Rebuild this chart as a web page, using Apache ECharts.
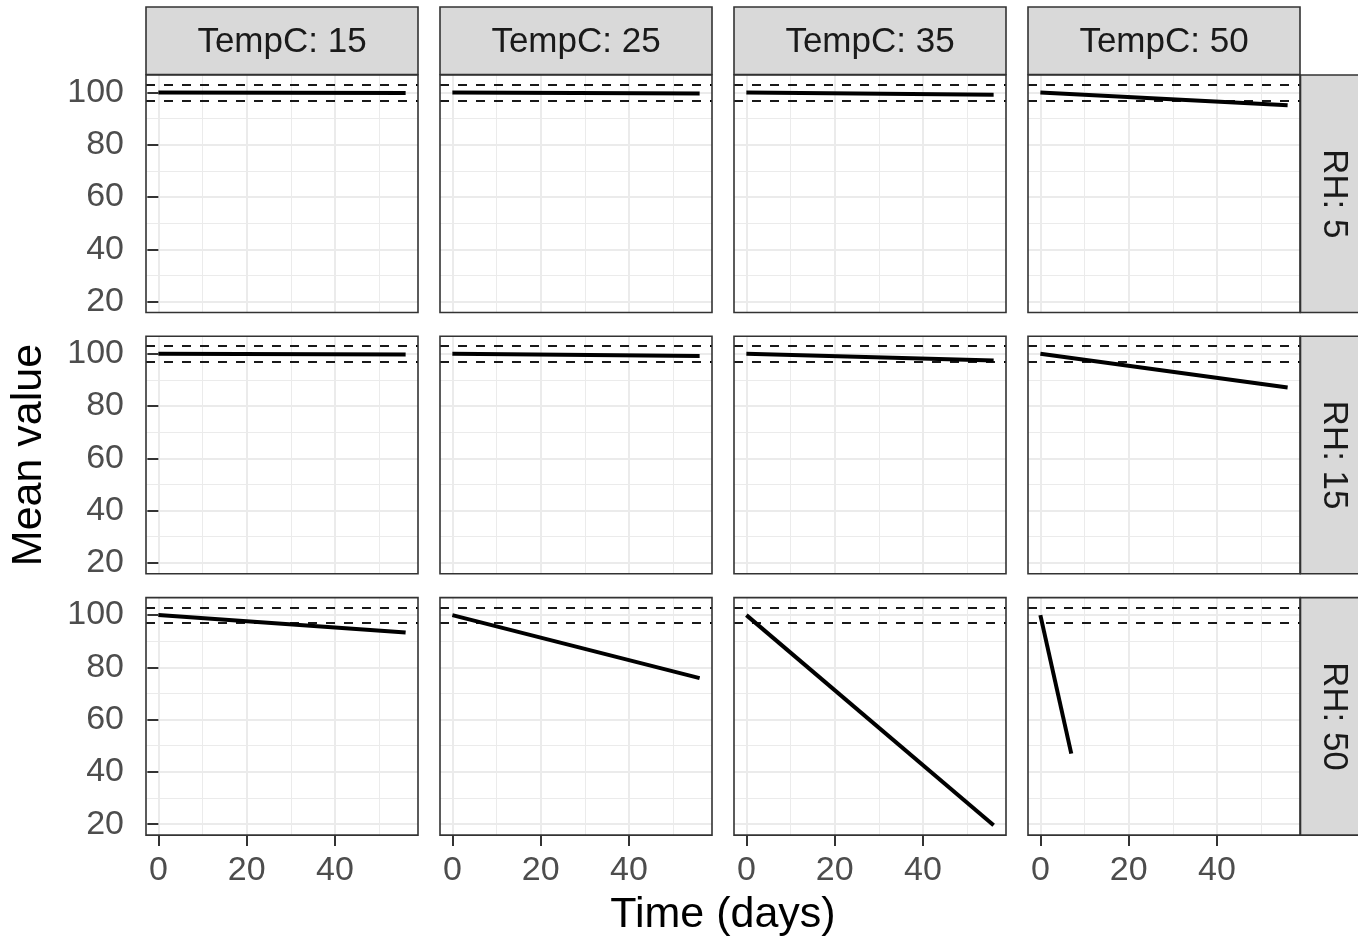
<!DOCTYPE html>
<html><head><meta charset="utf-8">
<script src="https://cdn.jsdelivr.net/npm/echarts@6/dist/echarts.min.js"></script>
<style>html,body{margin:0;padding:0;background:#fff}#c{width:1358px;height:940px}</style>
</head><body><div id="c"></div>
<script>
// ---- data ----
const tempLabels = ['TempC: 15', 'TempC: 25', 'TempC: 35', 'TempC: 50'];
const rhLabels = ['RH: 5', 'RH: 15', 'RH: 50'];
const xTickValues = [0, 20, 40];
const yTickValues = [20, 40, 60, 80, 100];
const specLimits = [97, 103];
const startDay = 0;
const startValue = 100;
const rh5EndDay = [56, 56, 56, 56];
const rh5EndValue = [99.8, 99.6, 99.1, 95.1];
const rh15EndDay = [56, 56, 56, 56];
const rh15EndValue = [99.7, 99.2, 97.4, 87.1];
const rh50EndDay = [56, 56, 56, 7];
const rh50EndValue = [93.3, 75.9, 19.6, 47.0];
const endDays = [rh5EndDay, rh15EndDay, rh50EndDay];
const endValues = [rh5EndValue, rh15EndValue, rh50EndValue];

// ---- layout ----
const FONT = '"Liberation Sans", Arial, Helvetica, sans-serif';
const colLeft = [146, 440, 734, 1028], panelW = 272;
const rowTop = [75, 336.3, 597.6], panelH = 237.5;
const xRange = [-2.8, 58.8], yRange = [15.8, 106.7];
const stripTop = 7, stripBottom = 74.5;
const rStripLeft = 1300.5, rStripRight = 1368;

const grid = [], xAxis = [], yAxis = [], series = [], graphic = [];
let k = 0;
for (let r = 0; r < 3; r++) {
  for (let c = 0; c < 4; c++) {
    grid.push({ left: colLeft[c], top: rowTop[r], width: panelW, height: panelH,
      show: true, backgroundColor: '#fff', borderWidth: 0 });
    const showX = r === 2, showY = c === 0;
    xAxis.push({
      type: 'value', gridIndex: k, min: xRange[0], max: xRange[1],
      minInterval: 20, maxInterval: 20,
      axisLine: { show: false },
      axisTick: { show: showX, length: 11, customValues: xTickValues, lineStyle: { color: '#333333', width: 2 } },
      axisLabel: { show: showX, customValues: xTickValues,
        margin: 19, fontSize: 34, color: '#4D4D4D', fontFamily: FONT },
      splitLine: { show: true, lineStyle: { color: '#EBEBEB', width: 2 } },
      minorTick: { show: false, splitNumber: 2 },
      minorSplitLine: { show: true, lineStyle: { color: '#EBEBEB', width: 1 } }
    });
    yAxis.push({
      type: 'value', gridIndex: k, min: yRange[0], max: yRange[1],
      minInterval: 20, maxInterval: 20,
      axisLine: { show: false },
      axisTick: { show: showY, length: 11, customValues: yTickValues, lineStyle: { color: '#333333', width: 2 } },
      axisLabel: { show: showY, customValues: yTickValues,
        margin: 22, fontSize: 34, color: '#4D4D4D', fontFamily: FONT },
      splitLine: { show: true, lineStyle: { color: '#EBEBEB', width: 2 } },
      minorTick: { show: false, splitNumber: 2 },
      minorSplitLine: { show: true, lineStyle: { color: '#EBEBEB', width: 1 } }
    });
    series.push({
      type: 'line', xAxisIndex: k, yAxisIndex: k, symbol: 'none', clip: true,
      data: [[startDay, startValue], [endDays[r][c], endValues[r][c]]],
      lineStyle: { color: '#000', width: 4 }, z: 3,
      markLine: { silent: true, symbol: ['none', 'none'], animation: false,
        label: { show: false },
        lineStyle: { color: '#000', width: 1.8, type: [9, 9] },
        data: specLimits.map(v => ({ yAxis: v })) },
      animation: false
    });
    graphic.push({ type: 'rect', z: 100, silent: true,
      shape: { x: colLeft[c], y: rowTop[r], width: panelW, height: panelH },
      style: { fill: null, stroke: '#333333', lineWidth: 1.6 } });
    k++;
  }
}
for (let c = 0; c < 4; c++) {
  graphic.push({ type: 'rect', z: 90, silent: true,
    shape: { x: colLeft[c], y: stripTop, width: panelW, height: stripBottom - stripTop },
    style: { fill: '#D9D9D9', stroke: '#333333', lineWidth: 1.6 } });
  graphic.push({ type: 'text', z: 101, silent: true,
    x: colLeft[c] + panelW / 2, y: (stripTop + stripBottom) / 2 + 1.5,
    style: { text: tempLabels[c], fontSize: 35, fontFamily: FONT, fill: '#1A1A1A',
      align: 'center', verticalAlign: 'middle' } });
}
for (let r = 0; r < 3; r++) {
  graphic.push({ type: 'rect', z: 90, silent: true,
    shape: { x: rStripLeft, y: rowTop[r], width: rStripRight - rStripLeft, height: panelH },
    style: { fill: '#D9D9D9', stroke: '#333333', lineWidth: 1.6 } });
  graphic.push({ type: 'text', z: 101, silent: true,
    x: (rStripLeft + 1367) / 2, y: rowTop[r] + panelH / 2, rotation: -Math.PI / 2,
    style: { text: rhLabels[r], fontSize: 35, fontFamily: FONT, fill: '#1A1A1A',
      align: 'center', verticalAlign: 'middle' } });
}
graphic.push({ type: 'text', z: 101, silent: true, x: 723, y: 915,
  style: { text: 'Time (days)', fontSize: 43, fontFamily: FONT, fill: '#000', align: 'center', verticalAlign: 'middle' } });
graphic.push({ type: 'text', z: 101, silent: true, x: 29.5, y: 455, rotation: Math.PI / 2,
  style: { text: 'Mean value', fontSize: 43, fontFamily: FONT, fill: '#000', align: 'center', verticalAlign: 'middle' } });

const chart = echarts.init(document.getElementById('c'), null, { renderer: 'canvas' });
chart.setOption({ animation: false, backgroundColor: '#fff', grid, xAxis, yAxis, series, graphic });
</script></body></html>
